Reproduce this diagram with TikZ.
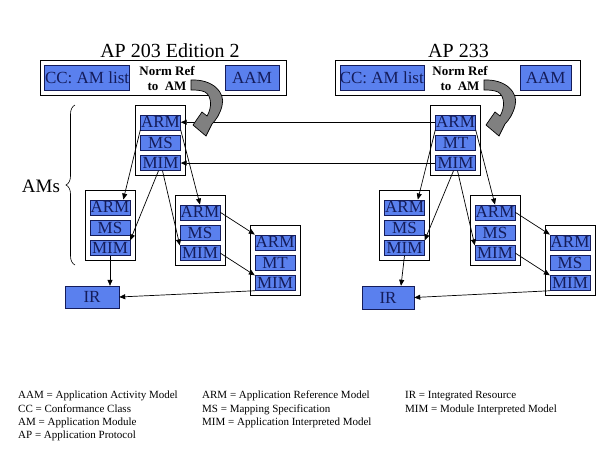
\documentclass[tikz,border=0pt]{standalone}
\usepackage{fontspec}
\setmainfont{Liberation Serif}
\usetikzlibrary{arrows.meta, positioning, decorations.pathreplacing}
\definecolor{partblue}{RGB}{90,128,238}
\definecolor{partline}{RGB}{20,28,90}

\begin{document}
\begin{tikzpicture}[
    x=1pt, y=-1pt,
    node distance=5pt,
    every node/.style={font=\fontsize{17}{17}\selectfont},
    part/.style={draw=partline, fill=partblue, text=partline, inner sep=0pt, minimum width=40pt, minimum height=15pt},
    ambox/.style={draw, fill=white, line width=0.9pt, inner sep=0pt, minimum width=50pt, minimum height=70pt},
    apbox/.style={draw, fill=white, line width=0.9pt, inner sep=0pt, minimum height=35pt},
    title/.style={font=\fontsize{20}{20}\selectfont, anchor=base},
    normref/.style={font=\fontsize{13}{15}\selectfont\bfseries, align=center, anchor=north, inner sep=0pt},
    legend/.style={font=\fontsize{11}{13.3}\selectfont, align=left, anchor=north west, inner sep=0pt},
    arrow/.style={-{Triangle[length=6pt, width=5pt]}, line width=0.7pt},
    bigarrow/.style={draw, fill=gray, line width=0.7pt}
]
    \fill[white] (0,0) rectangle (600,450);
    \useasboundingbox (0,0) rectangle (600,450);

    % AP 203 Edition 2
    \node[title] (ltitle) at (170,57) {AP 203 Edition 2};
    \node[apbox, minimum width=246pt] (LAP) at (163.8,77.8) {};
    \node[part, minimum width=85pt, minimum height=25pt, right=4pt of LAP.west] (Lcc) {CC: AM list};
    \node[part, minimum width=54pt, minimum height=25pt, left=8pt of LAP.east] (Laam) {AAM};
    \node[normref] (Lnorm) at (167,66) {Norm Ref\\to\ \ AM};

    \node[ambox] (LT) at (160.5,140) {};
    \node[part, below=10pt of LT.north] (LTarm) {ARM};
    \node[part, below=of LTarm] (LTms) {MS};
    \node[part, below=of LTms] (LTmim) {MIM};

    \node[ambox] (L1) at (110,225) {};
    \node[part, below=10pt of L1.north] (L1arm) {ARM};
    \node[part, below=of L1arm] (L1ms) {MS};
    \node[part, below=of L1ms] (L1mim) {MIM};

    \node[ambox] (L2) at (200,230) {};
    \node[part, below=10pt of L2.north] (L2arm) {ARM};
    \node[part, below=of L2arm] (L2ms) {MS};
    \node[part, below=of L2ms] (L2mim) {MIM};

    \node[ambox] (L3) at (275,260) {};
    \node[part, below=10pt of L3.north] (L3arm) {ARM};
    \node[part, below=of L3arm] (L3mt) {MT};
    \node[part, below=of L3mt] (L3mim) {MIM};

    \node[part, minimum width=54pt, minimum height=22pt] (LIR) at (92,297) {IR};

    % AP 233
    \node[title] (rtitle) at (458.5,57) {AP 233};
    \node[apbox, minimum width=245pt] (RAP) at (457.5,77.5) {};
    \node[part, minimum width=84pt, minimum height=25pt, right=5pt of RAP.west] (Rcc) {CC: AM list};
    \node[part, minimum width=51pt, minimum height=25pt, left=9pt of RAP.east] (Raam) {AAM};
    \node[normref] (Rnorm) at (460,66) {Norm Ref\\to\ \ AM};

    \node[ambox] (RT) at (455.5,140) {};
    \node[part, below=10pt of RT.north] (RTarm) {ARM};
    \node[part, below=of RTarm] (RTmt) {MT};
    \node[part, below=of RTmt] (RTmim) {MIM};

    \node[ambox] (R1) at (404.5,225) {};
    \node[part, below=10pt of R1.north] (R1arm) {ARM};
    \node[part, below=of R1arm] (R1ms) {MS};
    \node[part, below=of R1ms] (R1mim) {MIM};

    \node[ambox] (R2) at (495,230) {};
    \node[part, below=10pt of R2.north] (R2arm) {ARM};
    \node[part, below=of R2arm] (R2ms) {MS};
    \node[part, below=of R2ms] (R2mim) {MIM};

    \node[ambox] (R3) at (570,260) {};
    \node[part, below=10pt of R3.north] (R3arm) {ARM};
    \node[part, below=of R3arm] (R3ms) {MS};
    \node[part, below=of R3ms] (R3mim) {MIM};

    \node[part, minimum width=52pt, minimum height=23pt] (RIR) at (388,297.5) {IR};

    % AMs brace
    \node[font=\fontsize{19}{19}\selectfont, anchor=base] (ams) at (41,192) {AMs};
    \draw[decorate, decoration={brace, amplitude=9pt}, line width=0.6pt] (75,265) -- (75,105);

    % connectors, left
    \draw[arrow] (LTarm.south west) -- (L1arm.30);
    \draw[arrow] (LTarm.south east) -- (L2arm.north);
    \draw[arrow] ([xshift=-2pt]LTmim.south) -- (L1mim.north east);
    \draw[arrow] ([xshift=2pt]LTmim.south) -- (L2mim.north west);
    \draw[arrow] (L2arm.east) -- (L3arm.north west);
    \draw[arrow] (L2mim.east) -- (L3mim.north west);
    \draw[arrow] (L1mim.south) -- (L1mim.south |- LIR.north);
    \draw[arrow] (L3mim.south west) -- (LIR.east);

    % connectors, right
    \draw[arrow] (RTarm.south west) -- (R1arm.30);
    \draw[arrow] (RTarm.south east) -- (R2arm.north);
    \draw[arrow] ([xshift=-2pt]RTmim.south) -- (R1mim.north east);
    \draw[arrow] ([xshift=2pt]RTmim.south) -- (R2mim.north west);
    \draw[arrow] (R2arm.east) -- (R3arm.north west);
    \draw[arrow] (R2mim.east) -- (R3mim.north west);
    \draw[arrow] (R1mim.south) -- ([xshift=13pt]RIR.north);
    \draw[arrow] (R3mim.south west) -- (RIR.east);

    % AP 233 to AP 203
    \draw[arrow] (RTarm.west) -- (LTarm.east);
    \draw[arrow] (RTmim.west) -- (LTmim.east);

    % norm ref arrows
    \foreach \dx in {0,293}
        \filldraw[bigarrow, shift={(\dx,0)}] (191,80) .. controls (212,79) and (226,92) .. (222,106)
            .. controls (220,114) and (216,120) .. (212,124) -- (206,136) -- (193,125) -- (202,112) -- (207,116)
            .. controls (212,108) and (212,96) .. (205,92) .. controls (200,90) and (196,90) .. (191,90) -- cycle;

    % legend
    \node[legend] (leg1) at (18,391) {AAM = Application Activity Model\\CC = Conformance Class\\AM = Application Module\\AP = Application Protocol};
    \node[legend] (leg2) at (202,391) {ARM = Application Reference Model\\MS = Mapping Specification\\MIM = Application Interpreted Model};
    \node[legend] (leg3) at (405,391) {IR = Integrated Resource\\MIM = Module Interpreted Model};
\end{tikzpicture}
\end{document}
